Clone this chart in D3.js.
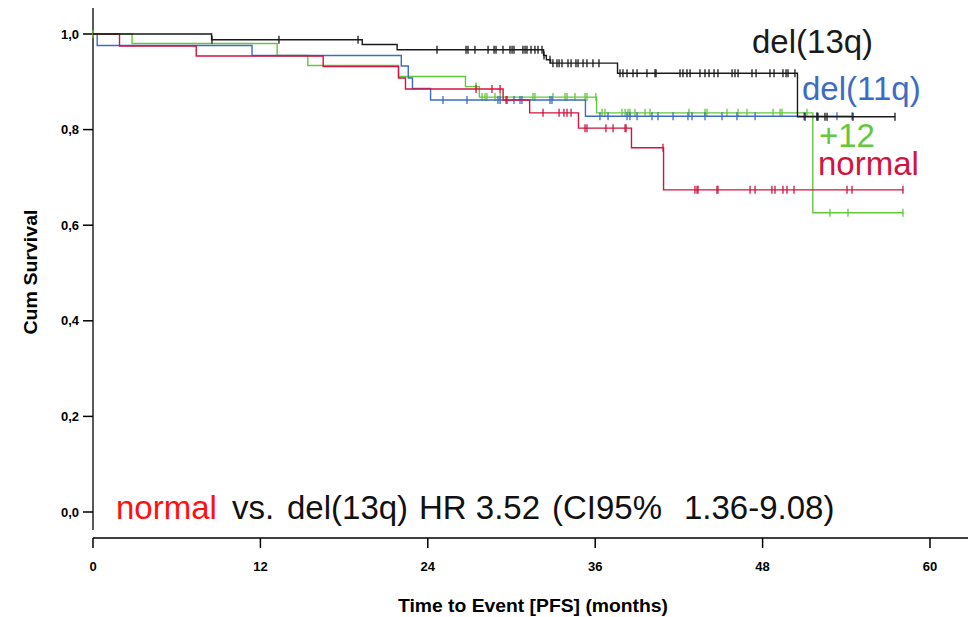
<!DOCTYPE html>
<html>
  <head>
    <title>PFS by cytogenetic group</title>
    <script src="https://d3js.org/d3.v7.min.js"></script>
    <style>
      body {
        margin: 0;
        background: #fff;
      }
      svg {
        display: block;
        font-family: "Liberation Sans", Arial, sans-serif;
      }
      .tick-label {
        font-weight: bold;
        font-size: 13px;
      }
      .axis-title {
        font-weight: bold;
        font-size: 18px;
      }
      .big {
        font-size: 33px;
      }
    </style>
  </head>
  <body>
    <svg id="km"></svg>
    <script>
      // x ticks (months) and y ticks (cum survival)
      const xTicks = [0, 12, 24, 36, 48, 60];
      const yTicks = [0, 0.2, 0.4, 0.6, 0.8, 1.0];

      // Kaplan-Meier steps: [month, survival after the event]
      const del13qSteps = [[8.5, 0.988], [19.3, 0.978], [21.8, 0.967], [32.3, 0.955], [32.5, 0.946], [32.8, 0.939], [37.6, 0.918], [50.5, 0.827]];
      const del11qSteps = [[0.3, 0.976], [11.4, 0.955], [22.1, 0.933], [22.6, 0.908], [22.9, 0.886], [24.2, 0.862], [35.3, 0.828]];
      const tri12Steps = [[2.8, 0.98], [13.2, 0.955], [15.4, 0.934], [21.9, 0.911], [26.7, 0.89], [27.7, 0.868], [36.1, 0.835], [51.6, 0.626]];
      const normalSteps = [[1.9, 0.975], [7.4, 0.954], [16.5, 0.932], [21.9, 0.908], [22.4, 0.885], [29.4, 0.862], [31.3, 0.835], [34.8, 0.803], [38.6, 0.762], [40.9, 0.674]];

      // last follow-up per group
      const del13qEnd = 57.5;
      const del11qEnd = 54.4;
      const tri12End = 58.1;
      const normalEnd = 58.1;

      // censored observations (months)
      const del13qCensored = [8.53, 13.33, 19.0, 24.66, 26.74, 26.88, 27.38, 28.32, 28.75, 28.89, 29.39, 29.89, 30.04, 30.18,
        30.82, 30.97, 31.11, 31.4, 31.68, 31.9, 32.19, 32.33, 32.76, 32.97, 33.26, 33.41, 33.62, 34.05, 34.27, 34.62, 34.77,
        35.13, 35.41, 35.84, 36.27, 37.78, 37.99, 38.28, 38.71, 39.0, 39.71, 40.29, 40.36, 42.08, 42.29, 42.58, 42.8, 43.51,
        43.87, 44.16, 44.52, 44.8, 45.81, 46.02, 46.24, 47.24, 47.53, 48.53, 48.82, 49.46, 49.68, 49.82, 50.32, 51.04, 51.9,
        51.97, 52.47, 52.62, 54.48, 57.49];
      const del11qCensored = [25.09, 26.81, 29.03, 29.18, 30.18, 30.61, 30.75, 32.76, 32.9, 36.34, 36.92, 38.28, 38.49, 39.0,
        40.07, 40.5, 41.58, 42.65, 42.94, 43.87, 45.09, 46.16, 47.46, 50.97, 51.9, 53.33, 54.41];
      const tri12Censored = [0, 27.46, 27.89, 28.1, 28.24, 28.82, 29.18, 31.54, 31.68, 32.97, 33.84, 33.98, 34.55, 35.27, 35.41,
        36.05, 36.49, 36.7, 37.92, 38.14, 38.35, 38.49, 38.85, 39.57, 39.93, 42.72, 43.87, 44.01, 45.45, 46.24, 46.88, 48.75,
        49.25, 49.39, 51.18, 52.83, 54.12, 58.06];
      const normalCensored = [27.46, 28.6, 29.18, 29.61, 29.68, 32.26, 33.41, 33.76, 33.98, 34.27, 35.27, 35.41, 36.77, 37.28,
        38.14, 38.21, 40.86, 43.15, 43.3, 43.37, 44.73, 44.8, 47.1, 47.46, 48.67, 48.89, 49.46, 49.75, 50.25, 54.05, 54.41, 58.06];

      const groups = [
        { name: "+12", color: "#62c83c", steps: tri12Steps, end: tri12End, censored: tri12Censored, lx: 819, ly: 147 },
        { name: "del(11q)", color: "#3c6dc2", steps: del11qSteps, end: del11qEnd, censored: del11qCensored, lx: 802, ly: 100 },
        { name: "normal", color: "#d2143f", steps: normalSteps, end: normalEnd, censored: normalCensored, lx: 818, ly: 175 },
        { name: "del(13q)", color: "#1a1a1a", steps: del13qSteps, end: del13qEnd, censored: del13qCensored, lx: 752, ly: 53 }
      ];

      const width = 968;
      const height = 617;

      const svg = d3.select("#km").attr("width", width).attr("height", height);

      const x = d3.scaleLinear([0, 60], [93, 930]);
      const y = d3.scaleLinear([0, 1], [512, 34]);

      // y axis: line stops short of the x axis, SPSS style
      svg.append("line")
        .attr("x1", x(0)).attr("x2", x(0))
        .attr("y1", 8).attr("y2", 530)
        .attr("stroke", "#000").attr("stroke-width", 1.3);

      const gy = svg.append("g");
      gy.selectAll("line")
        .data(yTicks)
        .join("line")
        .attr("x1", x(0) - 10).attr("x2", x(0))
        .attr("y1", d => y(d)).attr("y2", d => y(d))
        .attr("stroke", "#000").attr("stroke-width", 1.5);
      gy.selectAll("text")
        .data(yTicks)
        .join("text")
        .attr("class", "tick-label")
        .attr("x", 79)
        .attr("y", d => y(d))
        .attr("dy", "0.35em")
        .attr("text-anchor", "end")
        .text(d => d3.format(".1f")(d).replace(".", ","));

      // x axis
      const axisY = 538;
      svg.append("line")
        .attr("x1", x(0)).attr("x2", width)
        .attr("y1", axisY).attr("y2", axisY)
        .attr("stroke", "#000").attr("stroke-width", 1.3);

      const gx = svg.append("g");
      gx.selectAll("line")
        .data(xTicks)
        .join("line")
        .attr("x1", d => x(d)).attr("x2", d => x(d))
        .attr("y1", axisY).attr("y2", axisY + 10)
        .attr("stroke", "#000").attr("stroke-width", 1.5);
      gx.selectAll("text")
        .data(xTicks)
        .join("text")
        .attr("class", "tick-label")
        .attr("x", d => x(d))
        .attr("y", 571)
        .attr("text-anchor", "middle")
        .text(d => d);

      // axis titles
      svg.append("text")
        .attr("class", "axis-title")
        .attr("transform", "translate(37,272) rotate(-90)")
        .attr("text-anchor", "middle")
        .attr("textLength", 125)
        .attr("lengthAdjust", "spacingAndGlyphs")
        .text("Cum Survival");

      svg.append("text")
        .attr("class", "axis-title")
        .attr("x", 533)
        .attr("y", 612)
        .attr("text-anchor", "middle")
        .attr("textLength", 270)
        .attr("lengthAdjust", "spacingAndGlyphs")
        .text("Time to Event [PFS] (months)");

      // survival value at time t for a step list
      function survivalAt(steps, t) {
        let s = 1;
        steps.forEach(([m, v]) => {
          if (m <= t) s = v;
        });
        return s;
      }

      const stepLine = d3.line()
        .x(d => x(d[0]))
        .y(d => y(d[1]))
        .curve(d3.curveStepAfter);

      groups.forEach(g => {
        const last = g.steps[g.steps.length - 1][1];
        const pts = [[0, 1], ...g.steps, [g.end, last]];

        svg.append("path")
          .datum(pts)
          .attr("d", stepLine)
          .attr("fill", "none")
          .attr("stroke", g.color)
          .attr("stroke-width", 1.4);

        svg.append("g")
          .selectAll("line")
          .data(g.censored)
          .join("line")
          .attr("x1", d => x(d)).attr("x2", d => x(d))
          .attr("y1", d => y(survivalAt(g.steps, d)) - 4)
          .attr("y2", d => y(survivalAt(g.steps, d)) + 4)
          .attr("stroke", g.color)
          .attr("stroke-width", 1.3);

        svg.append("text")
          .attr("class", "big")
          .attr("x", g.lx)
          .attr("y", g.ly)
          .attr("fill", g.color)
          .text(g.name);
      });

      // hazard ratio note
      const note = [
        { t: "normal", x: 116, color: "#ff1010" },
        { t: "vs.", x: 232, color: "#111" },
        { t: "del(13q)", x: 287, color: "#111" },
        { t: "HR 3.52", x: 419, color: "#111" },
        { t: "(CI95%", x: 552, color: "#111" },
        { t: "1.36-9.08)", x: 684, color: "#111" }
      ];
      svg.append("g")
        .selectAll("text")
        .data(note)
        .join("text")
        .attr("class", "big")
        .attr("x", d => d.x)
        .attr("y", 519)
        .attr("fill", d => d.color)
        .text(d => d.t);
    </script>
  </body>
</html>
